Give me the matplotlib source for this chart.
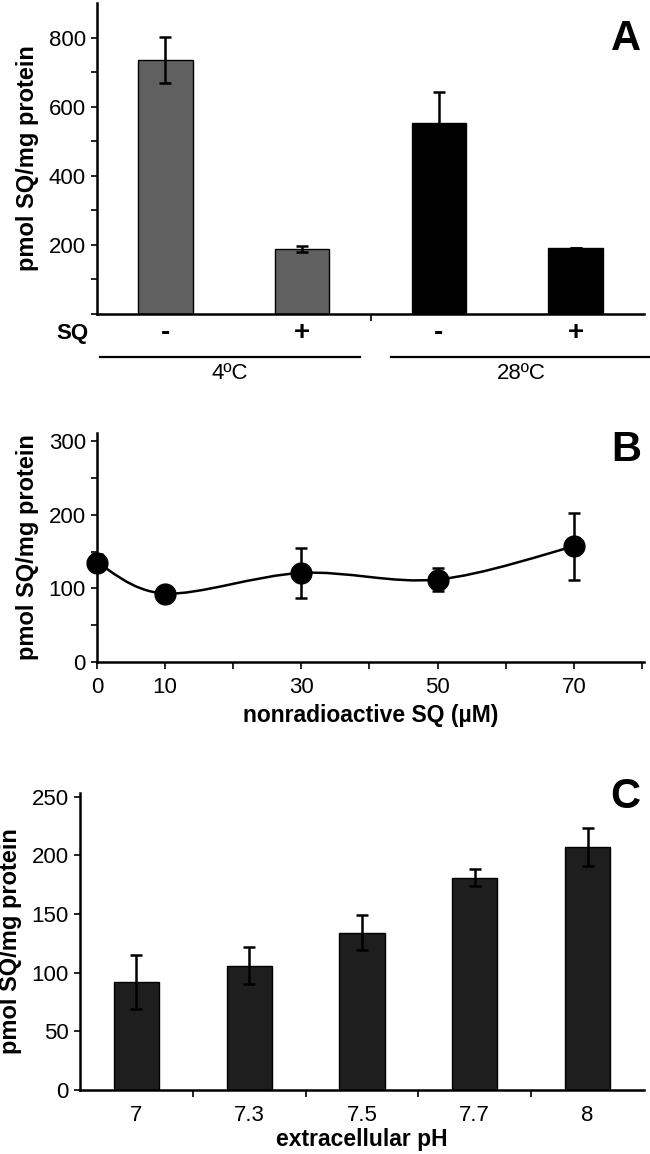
import matplotlib
matplotlib.use("Agg")
import matplotlib.pyplot as plt
from matplotlib.path import Path
from matplotlib.patches import PathPatch
from matplotlib import font_manager

# ---------------- data ----------------
a_sq = ["-", "+", "-", "+"]
a_groups = ["4ºC", "28ºC"]
a_values = [735, 188, 552, 191]
a_errors = [67, 8, 90, 0]
a_colors = ["#606060", "#606060", "#000000", "#000000"]

b_conc = [0, 10, 30, 50, 70]
b_values = [135, 93, 121, 112, 157]
b_errors = [12, 0, 34, 15, 45]

c_ph = ["7", "7.3", "7.5", "7.7", "8"]
c_values = [92, 106, 134, 181, 207]
c_errors = [23, 16, 15, 7, 16]

ylabel = "pmol SQ/mg protein"

# ---------------- fonts ----------------
avail = {f.name for f in font_manager.fontManager.ttflist}
narrow = "Liberation Sans Narrow" if "Liberation Sans Narrow" in avail else "Liberation Sans"
bold_font = "Liberation Sans"
plt.rcParams["font.family"] = [narrow, "DejaVu Sans"]

W, H = 650, 1154
fig = plt.figure(figsize=(W / 100, H / 100), dpi=100)


def axes_px(left, right, top, bottom):
    return fig.add_axes([left / W, 1 - bottom / H, (right - left) / W, (bottom - top) / H])


def style(ax):
    for s in ["top", "right"]:
        ax.spines[s].set_visible(False)
    for s in ["left", "bottom"]:
        ax.spines[s].set_linewidth(1.8)
    ax.tick_params(axis="both", which="both", direction="out", width=1.2, labelsize=16,
                   length=4, pad=4)
    ax.set_ylabel(ylabel, fontsize=17, fontweight="bold", family=bold_font, labelpad=7)


# ---------------- panel A ----------------
axA = axes_px(97, 644, 3, 314)
style(axA)
xa = list(range(len(a_values)))
axA.bar(xa, a_values, width=0.4, color=a_colors, edgecolor="black", linewidth=1.0, zorder=2)
axA.errorbar(xa, a_values, yerr=a_errors, fmt="none", ecolor="black", elinewidth=1.8,
             capsize=4, capthick=1.8, zorder=3)
axA.set_xlim(-0.5, 3.5)
axA.set_ylim(0, 900)
axA.set_yticks(range(0, 900, 100))
axA.set_yticklabels(["" if v % 200 or v == 0 else str(v) for v in range(0, 900, 100)])
axA.set_xticks([1.5])
axA.set_xticklabels([])
axA.tick_params(axis="x", length=5)
trA = axA.get_xaxis_transform()
axA.text(-0.68, -0.062, "SQ", transform=trA, ha="center", va="center",
         fontsize=16, fontweight="bold", family=bold_font)
for x, s in zip(xa, a_sq):
    axA.text(x, -0.062, s, transform=trA, ha="center", va="center",
             fontsize=20, fontweight="bold", family=bold_font)
axA.plot([-0.48, 1.42], [-0.138, -0.138], color="black", lw=1.6, transform=trA, clip_on=False)
axA.plot([1.65, 3.55], [-0.138, -0.138], color="black", lw=1.6, transform=trA, clip_on=False)
axA.text(0.47, -0.192, a_groups[0], transform=trA, ha="center", va="center", fontsize=16)
axA.text(2.6, -0.192, a_groups[1], transform=trA, ha="center", va="center", fontsize=16)
axA.text(0.967, 0.885, "A", transform=axA.transAxes, ha="center", va="center",
         fontsize=30, fontweight="bold", family=bold_font)

# ---------------- panel B ----------------
axB = axes_px(97, 644, 433, 662)
style(axB)
axB.set_xlim(0, 80.3)
axB.set_ylim(0, 311)
axB.set_yticks(range(0, 301, 50))
axB.set_yticklabels([str(v) if v % 100 == 0 else "" for v in range(0, 301, 50)])
axB.set_xticks(range(0, 81, 10))
axB.set_xticklabels([str(v) if v in b_conc else "" for v in range(0, 81, 10)])
axB.tick_params(axis="x", length=5, pad=6)

# smooth (Bezier) connecting curve through the data points
pts = list(zip(b_conc, b_values))
verts = [pts[0]]
codes = [Path.MOVETO]
n = len(pts)
for i in range(n - 1):
    p0 = pts[i - 1] if i > 0 else pts[i]
    p1 = pts[i]
    p2 = pts[i + 1]
    p3 = pts[i + 2] if i + 2 < n else pts[i + 1]
    c1 = (p1[0] + (p2[0] - p0[0]) / 6, p1[1] + (p2[1] - p0[1]) / 6)
    c2 = (p2[0] - (p3[0] - p1[0]) / 6, p2[1] - (p3[1] - p1[1]) / 6)
    verts += [c1, c2, p2]
    codes += [Path.CURVE4] * 3
axB.add_patch(PathPatch(Path(verts, codes), facecolor="none", edgecolor="black", lw=1.8,
                        zorder=2, clip_on=False))
axB.errorbar(b_conc, b_values, yerr=b_errors, fmt="o", color="black", ms=15,
             elinewidth=1.8, capsize=4, capthick=1.8, zorder=3, clip_on=False)
axB.set_xlabel("nonradioactive SQ (µM)", fontsize=16.5, fontweight="bold",
               family=bold_font, labelpad=4)
axB.text(0.967, 0.925, "B", transform=axB.transAxes, ha="center", va="center",
         fontsize=30, fontweight="bold", family=bold_font)

# ---------------- panel C ----------------
axC = axes_px(80, 644, 793, 1090)
style(axC)
xc = list(range(len(c_values)))
axC.bar(xc, c_values, width=0.4, color="#1e1e1e", edgecolor="black", linewidth=1.0, zorder=2)
axC.errorbar(xc, c_values, yerr=c_errors, fmt="none", ecolor="black", elinewidth=1.8,
             capsize=4, capthick=1.8, zorder=3)
axC.set_xlim(-0.5, 4.5)
axC.set_ylim(0, 253)
axC.set_yticks(range(0, 251, 50))
axC.set_xticks(xc)
axC.set_xticklabels(c_ph)
axC.set_xticks([0.5, 1.5, 2.5, 3.5], minor=True)
axC.tick_params(axis="x", which="major", length=0, pad=11)
axC.tick_params(axis="x", which="minor", length=5)
axC.set_xlabel("extracellular pH", fontsize=16.5, fontweight="bold", family=bold_font, labelpad=1)
axC.text(0.967, 0.985, "C", transform=axC.transAxes, ha="center", va="center",
         fontsize=30, fontweight="bold", family=bold_font)

fig.savefig("out.png", dpi=100)
